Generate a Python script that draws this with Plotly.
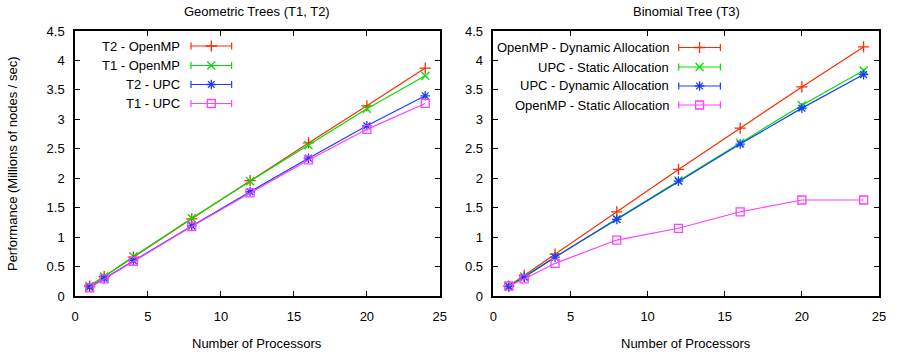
import plotly.graph_objects as go

procs = [1, 2, 4, 8, 12, 16, 20, 24]

# Left: Geometric Trees (T1, T2)
t2_openmp = [0.17, 0.33, 0.66, 1.31, 1.96, 2.60, 3.23, 3.87]
t1_openmp = [0.17, 0.33, 0.67, 1.32, 1.95, 2.56, 3.18, 3.74]
t2_upc = [0.15, 0.30, 0.60, 1.19, 1.77, 2.34, 2.89, 3.40]
t1_upc = [0.14, 0.29, 0.59, 1.18, 1.75, 2.31, 2.83, 3.27]

# Right: Binomial Tree (T3)
omp_dynamic = [0.17, 0.35, 0.71, 1.43, 2.15, 2.85, 3.55, 4.23]
upc_static = [0.17, 0.33, 0.66, 1.31, 1.96, 2.60, 3.24, 3.83]
upc_dynamic = [0.16, 0.32, 0.66, 1.30, 1.95, 2.58, 3.19, 3.76]
omp_static = [0.17, 0.29, 0.555, 0.95, 1.15, 1.43, 1.63, 1.63]

left_names = ["T2 - OpenMP", "T1 - OpenMP", "T2 - UPC", "T1 - UPC"]
right_names = ["OpenMP - Dynamic Allocation", "UPC - Static Allocation",
               "UPC - Dynamic Allocation", "OpenMP - Static Allocation"]

colors = ["#ff2a00", "#00e000", "#1a3cff", "#ff40ff"]
symbols = ["cross-thin-open", "x-thin-open", "asterisk-open", "square-open"]

FONT = "Liberation Sans, Arial, Helvetica, sans-serif"
W, H = 898, 355
L, R, T, B = 75, 12, 31, 59
PW = W - L - R
PH = H - T - B
LEFT_PX = (75, 443)
RIGHT_PX = (497, 886)

def px2paper(x, y):
    return (x - L) / PW, (H - B - y) / PH

def px2data(x, y, span):
    return (x - span[0]) * 25 / (span[1] - span[0]), (H - B - y) * 4.5 / PH

fig = go.Figure()

left_series = [t2_openmp, t1_openmp, t2_upc, t1_upc]
right_series = [omp_dynamic, upc_static, upc_dynamic, omp_static]

for i, (nm, ys) in enumerate(zip(left_names, left_series)):
    fig.add_trace(go.Scatter(x=procs, y=ys, mode="lines+markers", name=nm,
                             line=dict(color=colors[i], width=1.2),
                             marker=dict(symbol=symbols[i], size=8,
                                         color=colors[i],
                                         line=dict(color=colors[i], width=1.3)),
                             xaxis="x", yaxis="y", showlegend=False))
for i, (nm, ys) in enumerate(zip(right_names, right_series)):
    fig.add_trace(go.Scatter(x=procs, y=ys, mode="lines+markers", name=nm,
                             line=dict(color=colors[i], width=1.2),
                             marker=dict(symbol=symbols[i], size=8,
                                         color=colors[i],
                                         line=dict(color=colors[i], width=1.3)),
                             xaxis="x2", yaxis="y2", showlegend=False))

# Custom gnuplot-style legends (text left, sample right)
shapes = []
annotations = []
legend_specs = [
    (left_names, [46, 65.5, 84.5, 103.5], 183, 192, 233, LEFT_PX, "x", "y"),
    (right_names, [47.5, 67, 86, 105], 676, 684, 726, RIGHT_PX, "x2", "y2"),
]
for names, ys, txt_r, s0, s1, span, xa, ya in legend_specs:
    mxs, mys = [], []
    for i, (nm, py) in enumerate(zip(names, ys)):
        tx, ty = px2paper(txt_r, py)
        annotations.append(dict(x=tx, y=ty, xref="paper", yref="paper",
                                text=nm, showarrow=False, xanchor="right",
                                yanchor="middle",
                                font=dict(family=FONT, size=13, color="black")))
        x0, y0 = px2paper(s0, py)
        x1, _ = px2paper(s1, py)
        _, yt = px2paper(s0, py - 3.5)
        _, yb = px2paper(s0, py + 3.5)
        shapes.append(dict(type="line", xref="paper", yref="paper", x0=x0, x1=x1,
                           y0=y0, y1=y0, line=dict(color=colors[i], width=1.2)))
        for xc in (x0, x1):
            shapes.append(dict(type="line", xref="paper", yref="paper", x0=xc, x1=xc,
                               y0=yb, y1=yt, line=dict(color=colors[i], width=1.2)))
        dx, dy = px2data((s0 + s1) / 2, py, span)
        mxs.append(dx)
        mys.append(dy)
    fig.add_trace(go.Scatter(x=mxs, y=mys, mode="markers", xaxis=xa, yaxis=ya,
                             marker=dict(symbol=symbols, size=8, color=colors,
                                         line=dict(color=colors, width=1.3)),
                             showlegend=False, hoverinfo="skip", cliponaxis=False))

# Titles
lx0, lx1 = 0, (LEFT_PX[1] - L) / PW
rx0, rx1 = (RIGHT_PX[0] - L) / PW, 1
for text, cx in [("Geometric Trees (T1, T2)", (lx0 + lx1) / 2),
                 ("Binomial Tree (T3)", (rx0 + rx1) / 2)]:
    annotations.append(dict(x=cx, y=px2paper(0, 11)[1], xref="paper", yref="paper",
                            text=text, showarrow=False, xanchor="center",
                            yanchor="middle",
                            font=dict(family=FONT, size=13, color="black")))
for cx in [(lx0 + lx1) / 2, (rx0 + rx1) / 2]:
    annotations.append(dict(x=cx, y=px2paper(0, 343)[1], xref="paper", yref="paper",
                            text="Number of Processors", showarrow=False,
                            xanchor="center", yanchor="middle",
                            font=dict(family=FONT, size=13, color="black")))
annotations.append(dict(x=px2paper(12, 0)[0], y=0.5, xref="paper", yref="paper",
                        text="Performance (Millions of nodes / sec)", showarrow=False,
                        textangle=-90, xanchor="center", yanchor="middle",
                        font=dict(family=FONT, size=13, color="black")))

axis_common = dict(showline=True, linecolor="black", linewidth=1.5, mirror="ticks",
                   ticks="inside", ticklen=5, tickwidth=1, tickcolor="black",
                   showgrid=False, zeroline=False,
                   tickfont=dict(family=FONT, size=13, color="black"))

fig.update_layout(
    width=W, height=H,
    margin=dict(l=L, r=R, t=T, b=B),
    paper_bgcolor="white", plot_bgcolor="white",
    xaxis=dict(domain=[lx0, lx1], range=[0, 25], dtick=5, anchor="y",
               ticklabelstandoff=8, **axis_common),
    yaxis=dict(domain=[0, 1], range=[0, 4.5], dtick=0.5, anchor="x",
               ticklabelstandoff=6, **axis_common),
    xaxis2=dict(domain=[rx0, rx1], range=[0, 25], dtick=5, anchor="y2",
                ticklabelstandoff=8, **axis_common),
    yaxis2=dict(domain=[0, 1], range=[0, 4.5], dtick=0.5, anchor="x2",
                ticklabelstandoff=6, **axis_common),
    shapes=shapes, annotations=annotations,
    font=dict(family=FONT, size=13, color="black"),
    showlegend=False,
)

fig.write_html("out.html")
